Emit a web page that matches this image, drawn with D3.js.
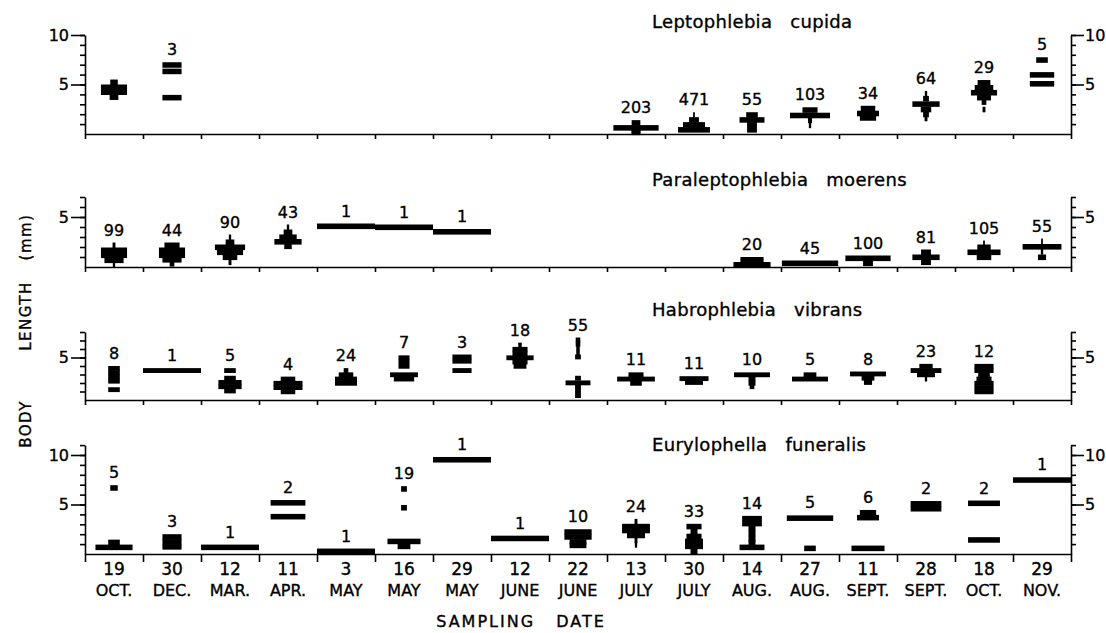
<!DOCTYPE html>
<html>
<head>
<meta charset="utf-8">
<script src="https://cdn.jsdelivr.net/npm/d3@7"></script>
<style>
  body { margin: 0; background: #fff; }
  svg text { font-family: "DejaVu Sans", sans-serif; fill: #000; stroke: #000; stroke-width: 0.35px; }
  .axis path, .axis line { stroke: #000; stroke-width: 1.6; }
</style>
</head>
<body>
<script>
// sampling dates (17 columns)
var days = ["19","30","12","11","3","16","29","12","22","13","30","14","27","11","28","18","29"];
var months = ["OCT.","DEC.","MAR.","APR.","MAY","MAY","MAY","JUNE","JUNE","JULY","JULY","AUG.","AUG.","SEPT.","SEPT.","OCT.","NOV."];

var species = ["Leptophlebia cupida", "Paraleptophlebia moerens", "Habrophlebia vibrans", "Eurylophella funeralis"];

// number of nymphs measured per sample
var cupidaN    = [null, 3, null, null, null, null, null, null, null, 203, 471, 55, 103, 34, 64, 29, 5];
var moerensN   = [99, 44, 90, 43, 1, 1, 1, null, null, null, null, 20, 45, 100, 81, 105, 55];
var vibransN   = [8, 1, 5, 4, 24, 7, 3, 18, 55, 11, 11, 10, 5, 8, 23, 12, null];
var funeralisN = [5, 3, 1, 2, 1, 19, 1, 1, 10, 24, 33, 14, 5, 6, 2, 2, 1];

// size classes per sample: [body length mm (class centre), % of sample]
var cupidaKites = [
  [[5.25,13],[4.75,45],[4.25,45],[3.75,15]],
  [[7.0,33],[6.35,33],[3.7,33]],
  [], [], [], [], [], [], [],
  [[1.15,15],[0.65,78],[0.2,16]],
  [[1.95,3],[1.45,17],[0.95,38],[0.45,55]],
  [[1.95,20],[1.45,43],[0.95,17],[0.45,17]],
  [[2.45,26],[1.9,69],[1.4,7],[0.9,4]],
  [[2.6,25],[2.1,38],[1.65,28]],
  [[4.1,4],[3.6,10],[3.05,47],[2.5,18],[2.0,10],[1.6,5]],
  [[5.2,22],[4.7,32],[4.2,45],[3.7,24],[3.25,8],[2.5,5]],
  [[7.5,20],[6.0,42],[5.1,42]]
];
var moerensKites = [
  [[2.2,5],[1.7,45],[1.2,45],[0.7,33],[0.25,4]],
  [[2.2,26],[1.7,45],[1.2,45],[0.75,33],[0.35,8]],
  [[3.0,4],[2.5,15],[2.0,52],[1.5,45],[1.0,25],[0.5,5]],
  [[4.0,4],[3.5,15],[3.0,30],[2.55,47],[2.1,13]],
  [[4.1,100]],
  [[4.0,100]],
  [[3.55,100]],
  [], [], [], [],
  [[0.75,40],[0.25,64]],
  [[0.4,97]],
  [[0.9,78],[0.4,17]],
  [[1.5,17],[1.0,47],[0.5,17]],
  [[2.4,3],[2.0,23],[1.5,57],[1.0,25]],
  [[2.6,3],[2.05,67],[1.55,4],[1.0,14]]
];
var vibransKites = [
  [[3.75,20],[3.25,20],[2.75,20],[2.25,20],[1.25,20]],
  [[3.5,100]],
  [[3.5,20],[2.6,20],[2.1,40],[1.6,40],[1.1,20]],
  [[2.5,25],[2.0,50],[1.5,50],[1.0,25]],
  [[3.5,8],[3.0,25],[2.5,38],[2.0,38]],
  [[5.0,19],[4.5,19],[4.0,19],[3.0,48],[2.5,35]],
  [[5.1,33],[4.6,33],[3.5,33]],
  [[6.5,6],[6.0,26],[5.5,26],[5.0,47],[4.5,26],[4.0,22]],
  [[7.1,8],[6.6,8],[6.1,6],[5.6,6],[5.1,10],[2.6,10],[2.05,43],[1.55,10],[1.05,10],[0.55,10]],
  [[3.0,26],[2.5,65],[2.0,20]],
  [[2.55,50],[2.1,31]],
  [[3.0,62],[2.5,12],[2.0,12],[1.6,8]],
  [[3.0,22],[2.5,62]],
  [[3.1,62],[2.6,22],[2.1,14]],
  [[4.0,23],[3.5,53],[3.0,31],[2.5,4]],
  [[4.0,33],[3.5,33],[3.0,20],[2.5,26],[2.0,33],[1.5,33],[1.0,33]],
  []
];
var funeralisKites = [
  [[6.7,13],[1.2,20],[0.7,64]],
  [[1.75,33],[1.25,33],[0.75,33]],
  [[0.7,100]],
  [[5.2,60],[3.8,60]],
  [[0.3,100]],
  [[6.6,10],[4.7,10],[1.3,57],[0.8,22]],
  [[9.55,100]],
  [[1.6,100]],
  [[2.25,47],[1.75,47],[1.25,29],[0.9,29]],
  [[3.3,5],[2.8,48],[2.4,48],[1.9,31],[1.4,5],[0.95,4]],
  [[2.8,26],[2.3,12],[1.8,26],[1.3,31],[0.8,31],[0.3,12]],
  [[3.6,34],[3.1,34],[2.6,12],[2.1,12],[1.6,12],[1.15,12],[0.7,43]],
  [[3.65,80],[0.6,20]],
  [[4.2,28],[3.7,38],[0.6,57]],
  [[5.1,53],[4.6,53]],
  [[5.15,55],[1.45,55]],
  [[7.5,100]]
];

var counts = [cupidaN, moerensN, vibransN, funeralisN];
var kites = [cupidaKites, moerensKites, vibransKites, funeralisKites];

// panel layout: baseline y, px per mm, axis top (mm), title baseline
var layout = [
  {y0: 134, k: 9.9, top: 10, ty: 28},
  {y0: 267, k: 10,  top: 7,  ty: 186},
  {y0: 400, k: 8.5, top: 8,  ty: 316},
  {y0: 554, k: 9.9, top: 11, ty: 451}
];

var width = 1106;
var height = 633;
var svg = d3.select("body")
  .append("svg")
  .attr("width", width)
  .attr("height", height);

var x = d3.scaleLinear().domain([0, 17]).range([85, 1071]);
var w = d3.scaleLinear().domain([0, 100]).range([0, 58]); // % of sample -> bar width

layout.forEach(function(L, p) {
  var y = d3.scaleLinear().domain([0, L.top]).range([L.y0, L.y0 - L.k * L.top]);
  var g = svg.append("g");
  var majors = [5, 10].filter(function(v) { return v <= L.top; });

  // left axis
  g.append("g").attr("class", "axis").attr("transform", "translate(85,0)")
    .call(d3.axisLeft(y).tickValues(d3.range(1, L.top + 1)).tickSize(5).tickSizeOuter(0).tickFormat(""));
  var ml = g.append("g").attr("class", "axis").attr("transform", "translate(85,0)")
    .call(d3.axisLeft(y).tickValues(majors).tickSize(14).tickSizeOuter(0).tickPadding(2).tickFormat(d3.format("d")));
  ml.select(".domain").remove();

  // right axis
  g.append("g").attr("class", "axis").attr("transform", "translate(1071,0)")
    .call(d3.axisRight(y).tickValues(d3.range(1, L.top + 1)).tickSize(5).tickSizeOuter(0).tickFormat(""));
  var mr = g.append("g").attr("class", "axis").attr("transform", "translate(1071,0)")
    .call(d3.axisRight(y).tickValues(majors).tickSize(13).tickSizeOuter(0).tickPadding(1).tickFormat(d3.format("d")));
  mr.select(".domain").remove();

  g.selectAll(".axis text").style("font-size", "16px").style("font-family", "DejaVu Sans");

  // bottom axis (column boundaries)
  g.append("g").attr("class", "axis").attr("transform", "translate(0," + L.y0 + ")")
    .call(d3.axisBottom(x).tickValues(d3.range(0, 18)).tickSize(p == 3 ? 8 : 5).tickSizeOuter(0).tickFormat(""));

  // kites
  kites[p].forEach(function(segs, i) {
    var cx = x(i + 0.5);
    g.selectAll(null)
      .data(segs)
      .enter()
      .append("rect")
      .attr("x", function(d) { return cx - w(d[1]) / 2; })
      .attr("width", function(d) { return w(d[1]); })
      .attr("y", function(d) { return y(d[0] + 0.25); })
      .attr("height", function(d) { return y(d[0] - 0.25) - y(d[0] + 0.25) + 0.6; })
      .style("fill", "#000");

    var n = counts[p][i];
    if (n != null && segs.length) {
      var topMm = d3.max(segs, function(d) { return d[0]; });
      g.append("text")
        .attr("x", cx)
        .attr("y", y(topMm + 0.25) - 7)
        .attr("text-anchor", "middle")
        .style("font-size", "16px")
        .text(n);
    }
  });

  // species name
  g.append("text")
    .attr("x", 652)
    .attr("y", L.ty)
    .style("font-size", "18px")
    .style("letter-spacing", "0.3px")
    .style("word-spacing", "12px")
    .text(species[p]);
});

// date labels
svg.selectAll(".day")
  .data(days)
  .enter()
  .append("text")
  .attr("x", function(d, i) { return x(i + 0.5); })
  .attr("y", 575)
  .attr("text-anchor", "middle")
  .style("font-size", "17px")
  .text(function(d) { return d; });

svg.selectAll(".month")
  .data(months)
  .enter()
  .append("text")
  .attr("x", function(d, i) { return x(i + 0.5); })
  .attr("y", 596)
  .attr("text-anchor", "middle")
  .style("font-size", "16px")
  .text(function(d) { return d; });

svg.append("text")
  .attr("x", 521)
  .attr("y", 627)
  .attr("text-anchor", "middle")
  .style("font-size", "16px")
  .style("letter-spacing", "2px")
  .style("word-spacing", "14px")
  .text("SAMPLING DATE");

// y axis title, three words spaced apart
[["BODY", 424], ["LENGTH", 316], ["(mm)", 237]].forEach(function(t) {
  svg.append("text")
    .attr("transform", "translate(31," + t[1] + ") rotate(-90)")
    .attr("text-anchor", "middle")
    .style("font-size", "15px")
    .style("letter-spacing", "1.5px")
    .text(t[0]);
});
</script>
</body>
</html>
